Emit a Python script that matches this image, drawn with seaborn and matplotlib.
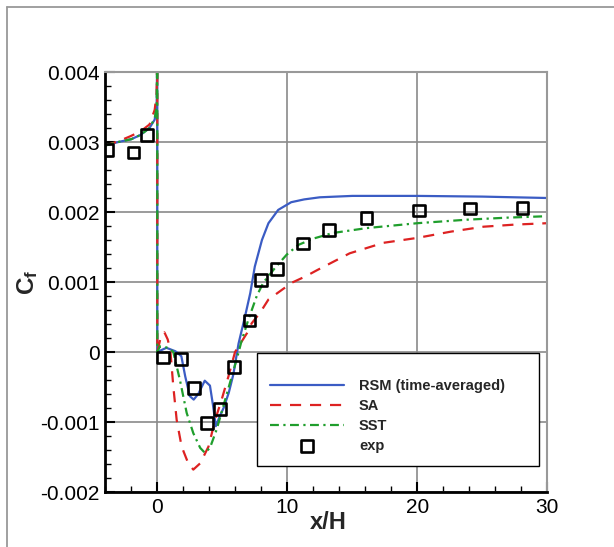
import matplotlib
matplotlib.use("Agg")
import matplotlib.pyplot as plt
import seaborn as sns
from matplotlib.lines import Line2D
from matplotlib.ticker import MultipleLocator, FixedLocator, FixedFormatter

# ---------------- data ----------------
x_rsm = [-4.0, -3.0, -2.0, -1.3, -0.6, -0.2, -0.05, 0.0, 0.0, 0.7, 1.4, 1.85, 2.15, 2.5, 2.8,
         3.15, 3.65, 4.05, 4.3, 4.5, 4.8, 5.1, 5.5, 5.85, 6.25, 6.75, 7.15, 7.5, 8.05, 8.55,
         9.3, 10.3, 11.3, 12.5, 15.0, 20.0, 25.0, 30.0]
y_rsm = [2.95e-3, 3.0e-3, 3.04e-3, 3.1e-3, 3.2e-3, 3.32e-3, 3.5e-3, 4.4e-3, 0.0, 0.06e-3,
         0.01e-3, -0.06e-3, -0.35e-3, -0.63e-3, -0.68e-3, -0.6e-3, -0.41e-3, -0.48e-3,
         -0.78e-3, -1.06e-3, -0.92e-3, -0.8e-3, -0.58e-3, -0.32e-3, 0.12e-3, 0.51e-3,
         0.84e-3, 1.22e-3, 1.6e-3, 1.84e-3, 2.03e-3, 2.14e-3, 2.18e-3, 2.21e-3, 2.23e-3,
         2.23e-3, 2.22e-3, 2.20e-3]

x_sa = [-4.0, -3.0, -2.1, -1.3, -0.6, -0.2, -0.05, 0.0, 0.0, 0.25, 0.55, 0.8, 1.0, 1.23,
        1.49, 1.87, 2.38, 2.77, 3.3, 3.94, 4.45, 4.95, 5.47, 5.98, 6.9, 7.26, 7.9, 8.55,
        9.45, 10.35, 11.4, 12.3, 14.8, 17.4, 20.0, 22.6, 25.1, 27.5, 30.0]
y_sa = [2.95e-3, 3.01e-3, 3.08e-3, 3.15e-3, 3.25e-3, 3.46e-3, 3.7e-3, 4.4e-3, 0.0, 0.2e-3,
        0.28e-3, 0.18e-3, 0.03e-3, -0.49e-3, -0.97e-3, -1.35e-3, -1.59e-3, -1.68e-3,
        -1.59e-3, -1.35e-3, -0.97e-3, -0.68e-3, -0.35e-3, 0.0, 0.27e-3, 0.41e-3, 0.56e-3,
        0.75e-3, 0.87e-3, 0.99e-3, 1.08e-3, 1.17e-3, 1.41e-3, 1.56e-3, 1.63e-3, 1.72e-3,
        1.79e-3, 1.82e-3, 1.84e-3]

x_sst = [-4.0, -3.0, -2.0, -1.3, -0.6, -0.2, -0.05, 0.0, 0.0, 0.2, 0.85, 1.23, 1.74, 2.26,
         2.77, 3.3, 3.66, 4.05, 4.56, 5.07, 5.59, 6.1, 6.5, 7.0, 7.65, 8.15, 9.05, 9.95,
         10.85, 12.0, 13.5, 16.1, 20.0, 23.8, 27.0, 30.0]
y_sst = [2.95e-3, 3.0e-3, 3.04e-3, 3.1e-3, 3.2e-3, 3.34e-3, 3.5e-3, 4.4e-3, 0.0, 0.08e-3,
         0.06e-3, 0.0, -0.4e-3, -0.87e-3, -1.16e-3, -1.37e-3, -1.44e-3, -1.37e-3, -1.11e-3,
         -0.78e-3, -0.44e-3, -0.11e-3, 0.17e-3, 0.46e-3, 0.8e-3, 0.99e-3, 1.2e-3, 1.39e-3,
         1.53e-3, 1.62e-3, 1.7e-3, 1.77e-3, 1.84e-3, 1.89e-3, 1.92e-3, 1.94e-3]

x_exp = [-3.85, -1.83, -0.82, 0.46, 1.84, 2.8, 3.8, 4.82, 5.9, 7.1, 7.98, 9.19, 11.2, 13.2,
         16.1, 20.16, 24.05, 28.1]
y_exp = [2.89e-3, 2.85e-3, 3.10e-3, -0.08e-3, -0.1e-3, -0.51e-3, -1.01e-3, -0.81e-3,
         -0.21e-3, 0.45e-3, 1.03e-3, 1.19e-3, 1.55e-3, 1.74e-3, 1.91e-3, 2.02e-3, 2.05e-3,
         2.06e-3]

labels = ["RSM (time-averaged)", "SA", "SST", "exp"]
x_ticks = [0, 10, 20, 30]
x_tick_labels = ["0", "10", "20", "30"]
y_ticks = [-0.002, -0.001, 0.0, 0.001, 0.002, 0.003, 0.004]
y_tick_labels = ["-0.002", "-0.001", "0", "0.001", "0.002", "0.003", "0.004"]

# ---------------- style ----------------
sns.set_theme(style="white")
plt.rcParams["font.family"] = ["Liberation Sans", "DejaVu Sans"]
plt.rcParams["mathtext.fontset"] = "custom"
plt.rcParams["mathtext.bf"] = "Liberation Sans:bold"
plt.rcParams["mathtext.rm"] = "Liberation Sans"

fig = plt.figure(figsize=(6.14, 5.47), dpi=100)
fig.patch.set_facecolor("white")
ax = fig.add_axes([105.3 / 614, 1 - 492 / 547, 442 / 614, 420 / 547])

# outer frame lines (top and left)
fig.add_artist(Line2D([7 / 614, 7 / 614], [0, 1 - 7 / 547], transform=fig.transFigure,
                      color="#999999", lw=1.3))
fig.add_artist(Line2D([7 / 614, 1], [1 - 7 / 547, 1 - 7 / 547], transform=fig.transFigure,
                      color="#999999", lw=1.3))

c_blue = "#3b5cc4"
c_red = "#dd2222"
c_green = "#1f9e2c"

sns.lineplot(x=x_rsm, y=y_rsm, ax=ax, sort=False, estimator=None, color=c_blue,
             lw=1.6, label=labels[0])
sns.lineplot(x=x_sa, y=y_sa, ax=ax, sort=False, estimator=None, color=c_red,
             lw=1.6, linestyle=(0, (5, 4)), label=labels[1])
sns.lineplot(x=x_sst, y=y_sst, ax=ax, sort=False, estimator=None, color=c_green,
             lw=1.6, linestyle=(0, (4, 2, 1, 2)), label=labels[2])
sns.scatterplot(x=x_exp, y=y_exp, ax=ax, marker="s", s=72, facecolor="none",
                edgecolor="black", linewidth=1.9, label=labels[3], zorder=5)

ax.set_xlim(-4, 30)
ax.set_ylim(-0.002, 0.004)

ax.xaxis.set_major_locator(FixedLocator(x_ticks))
ax.xaxis.set_major_formatter(FixedFormatter(x_tick_labels))
ax.xaxis.set_minor_locator(MultipleLocator(2))
ax.yaxis.set_major_locator(FixedLocator(y_ticks))
ax.yaxis.set_major_formatter(FixedFormatter(y_tick_labels))
ax.yaxis.set_minor_locator(MultipleLocator(0.0002))

ax.tick_params(which="both", direction="in", left=True, bottom=True, top=False,
               right=False, colors="black", labelsize=15)
ax.tick_params(which="major", length=7, width=1.5, pad=4)
ax.tick_params(which="minor", length=4, width=1.0)

ax.grid(True, which="major", color="#8a8a8a", lw=1.2)
ax.set_axisbelow(True)

for s in ["left", "bottom"]:
    ax.spines[s].set_color("black")
    ax.spines[s].set_linewidth(2.0)
for s in ["top", "right"]:
    ax.spines[s].set_color("#999999")
    ax.spines[s].set_linewidth(1.5)

ax.set_xlabel("x/H", fontsize=17, fontweight="bold")
ax.set_ylabel(r"$\mathbf{C_f}$", fontsize=17.5)
ax.xaxis.set_label_coords(0.505, -0.045)
ax.yaxis.set_label_coords(-0.148, 0.5)

leg = ax.legend(loc="lower left", bbox_to_anchor=(0.343, 0.062, 0.639, 0.264), mode="expand",
                borderaxespad=0, frameon=True, fancybox=False, framealpha=1,
                edgecolor="black", prop={"weight": "bold", "size": 10.5},
                handlelength=5.1, handletextpad=1.0, labelspacing=0.4, borderpad=0.9,
                title=" ", title_fontsize=5)
leg.get_frame().set_linewidth(1.0)

fig.savefig("out.png", dpi=100)
